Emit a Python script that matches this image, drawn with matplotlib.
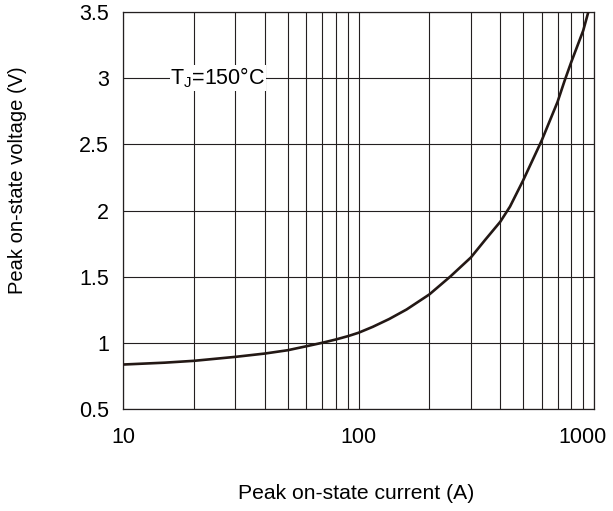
import matplotlib
matplotlib.use("Agg")
import matplotlib.pyplot as plt
import matplotlib.transforms as mtransforms
from matplotlib.ticker import FixedLocator, NullFormatter

# values (Tj = 150 C)
current = [10, 15, 20, 30, 40, 50, 60, 70, 80, 90, 100, 115, 135, 160, 200,
           245, 300, 345, 400, 440, 500, 600, 700, 750, 800, 900, 946]
voltage = [0.836, 0.85, 0.864, 0.894, 0.919, 0.944, 0.974, 1.0, 1.025, 1.05,
           1.076, 1.121, 1.18, 1.252, 1.366, 1.5, 1.645, 1.778, 1.915, 2.03,
           2.227, 2.53, 2.82, 2.98, 3.12, 3.36, 3.5]

x_ticks = [10, 100, 1000]
x_labels = ["10", "100", "1000"]
y_ticks = [0.5, 1, 1.5, 2, 2.5, 3, 3.5]
y_labels = ["0.5", "1", "1.5", "2", "2.5", "3", "3.5"]
minor_x = [20, 30, 40, 50, 60, 70, 80, 90, 200, 300, 400, 500, 600, 700, 800, 900]

ink = "#231f20"
plt.rcParams["font.family"] = ["Liberation Sans", "DejaVu Sans"]
plt.rcParams["mathtext.fontset"] = "custom"
plt.rcParams["mathtext.rm"] = "Liberation Sans"

fig = plt.figure(figsize=(6.13, 5.11), dpi=100)
ax = fig.add_axes([123 / 613, 1 - 409 / 511, 471 / 613, 397 / 511])

ax.plot(current, voltage, color="#231815", lw=1.9, solid_capstyle="butt",
        solid_joinstyle="round", zorder=3)

ax.set_xscale("log")
ax.set_xlim(10, 1000)
ax.set_ylim(0.5, 3.5)

ax.xaxis.set_major_locator(FixedLocator(x_ticks))
ax.xaxis.set_minor_locator(FixedLocator(minor_x))
ax.xaxis.set_minor_formatter(NullFormatter())
ax.set_xticks(x_ticks)
ax.set_xticklabels(x_labels)
ax.set_yticks(y_ticks)
ax.set_yticklabels(y_labels)

ax.grid(True, which="both", axis="x", color=ink, lw=0.8)
ax.grid(True, which="major", axis="y", color=ink, lw=0.8)
ax.tick_params(which="both", length=0)
ax.tick_params(axis="x", pad=13, labelsize=15.5, colors="black")
ax.tick_params(axis="y", pad=10, labelsize=15.5, colors="black")
for s in ax.spines.values():
    s.set_color(ink)
    s.set_linewidth(0.9)

# the "1000" label sits a bit left of its tick so it stays inside the figure
lab = ax.get_xticklabels()[-1]
lab.set_transform(lab.get_transform() +
                  mtransforms.ScaledTranslation(-11 / 100, 0, fig.dpi_scale_trans))

ax.text(25.3, 3.0, r"T$_\mathregular{J}$=150°C", ha="center", va="center",
        fontsize=15.5, zorder=4,
        bbox=dict(facecolor="white", edgecolor="none", pad=0.5))

fig.text(356 / 613, 1 - 493 / 511, "Peak on-state current (A)", ha="center",
         va="center", fontsize=15.2)
fig.text(18 / 613, 1 - 180 / 511, "Peak on-state voltage (V)", ha="center",
         va="center", rotation=90, fontsize=14.5)

fig.savefig("out.png", dpi=100)
